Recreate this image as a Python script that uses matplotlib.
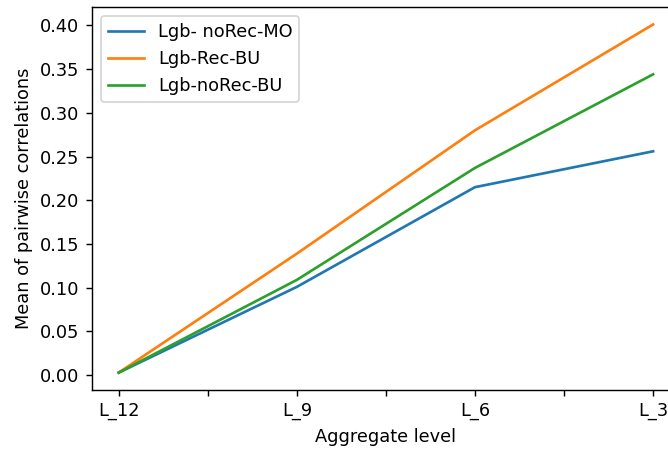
import numpy as np
import matplotlib
matplotlib.use("Agg")
import matplotlib.pyplot as plt

levels = ["L_12", "L_9", "L_6", "L_3"]
lgb_norec_mo = [0.003, 0.101, 0.215, 0.256]
lgb_rec_bu = [0.003, 0.139, 0.280, 0.401]
lgb_norec_bu = [0.003, 0.109, 0.237, 0.344]

DPI = 128
fig = plt.figure(figsize=(668 / DPI, 450 / DPI), dpi=DPI)
# the original output is cropped on the right, so the axes runs past the edge
ax = fig.add_axes([0.1377, 0.1333, 0.88, 0.851])

x = np.arange(len(levels))
ax.plot(x, lgb_norec_mo, label="Lgb- noRec-MO")
ax.plot(x, lgb_rec_bu, label="Lgb-Rec-BU")
ax.plot(x, lgb_norec_bu, label="Lgb-noRec-BU")

ticks = np.arange(0, len(levels) - 0.5, 0.5)
ax.set_xticks(ticks)
ax.set_xticklabels([levels[int(t)] if t == int(t) else "" for t in ticks])
ax.set_yticks(np.arange(0, 0.41, 0.05))
ax.yaxis.set_major_formatter(matplotlib.ticker.FormatStrFormatter("%.2f"))

ax.set_xlabel("Aggregate level")
ax.set_ylabel("Mean of pairwise correlations")
ax.legend(loc="upper left")

fig.savefig("out.png", dpi=DPI)
